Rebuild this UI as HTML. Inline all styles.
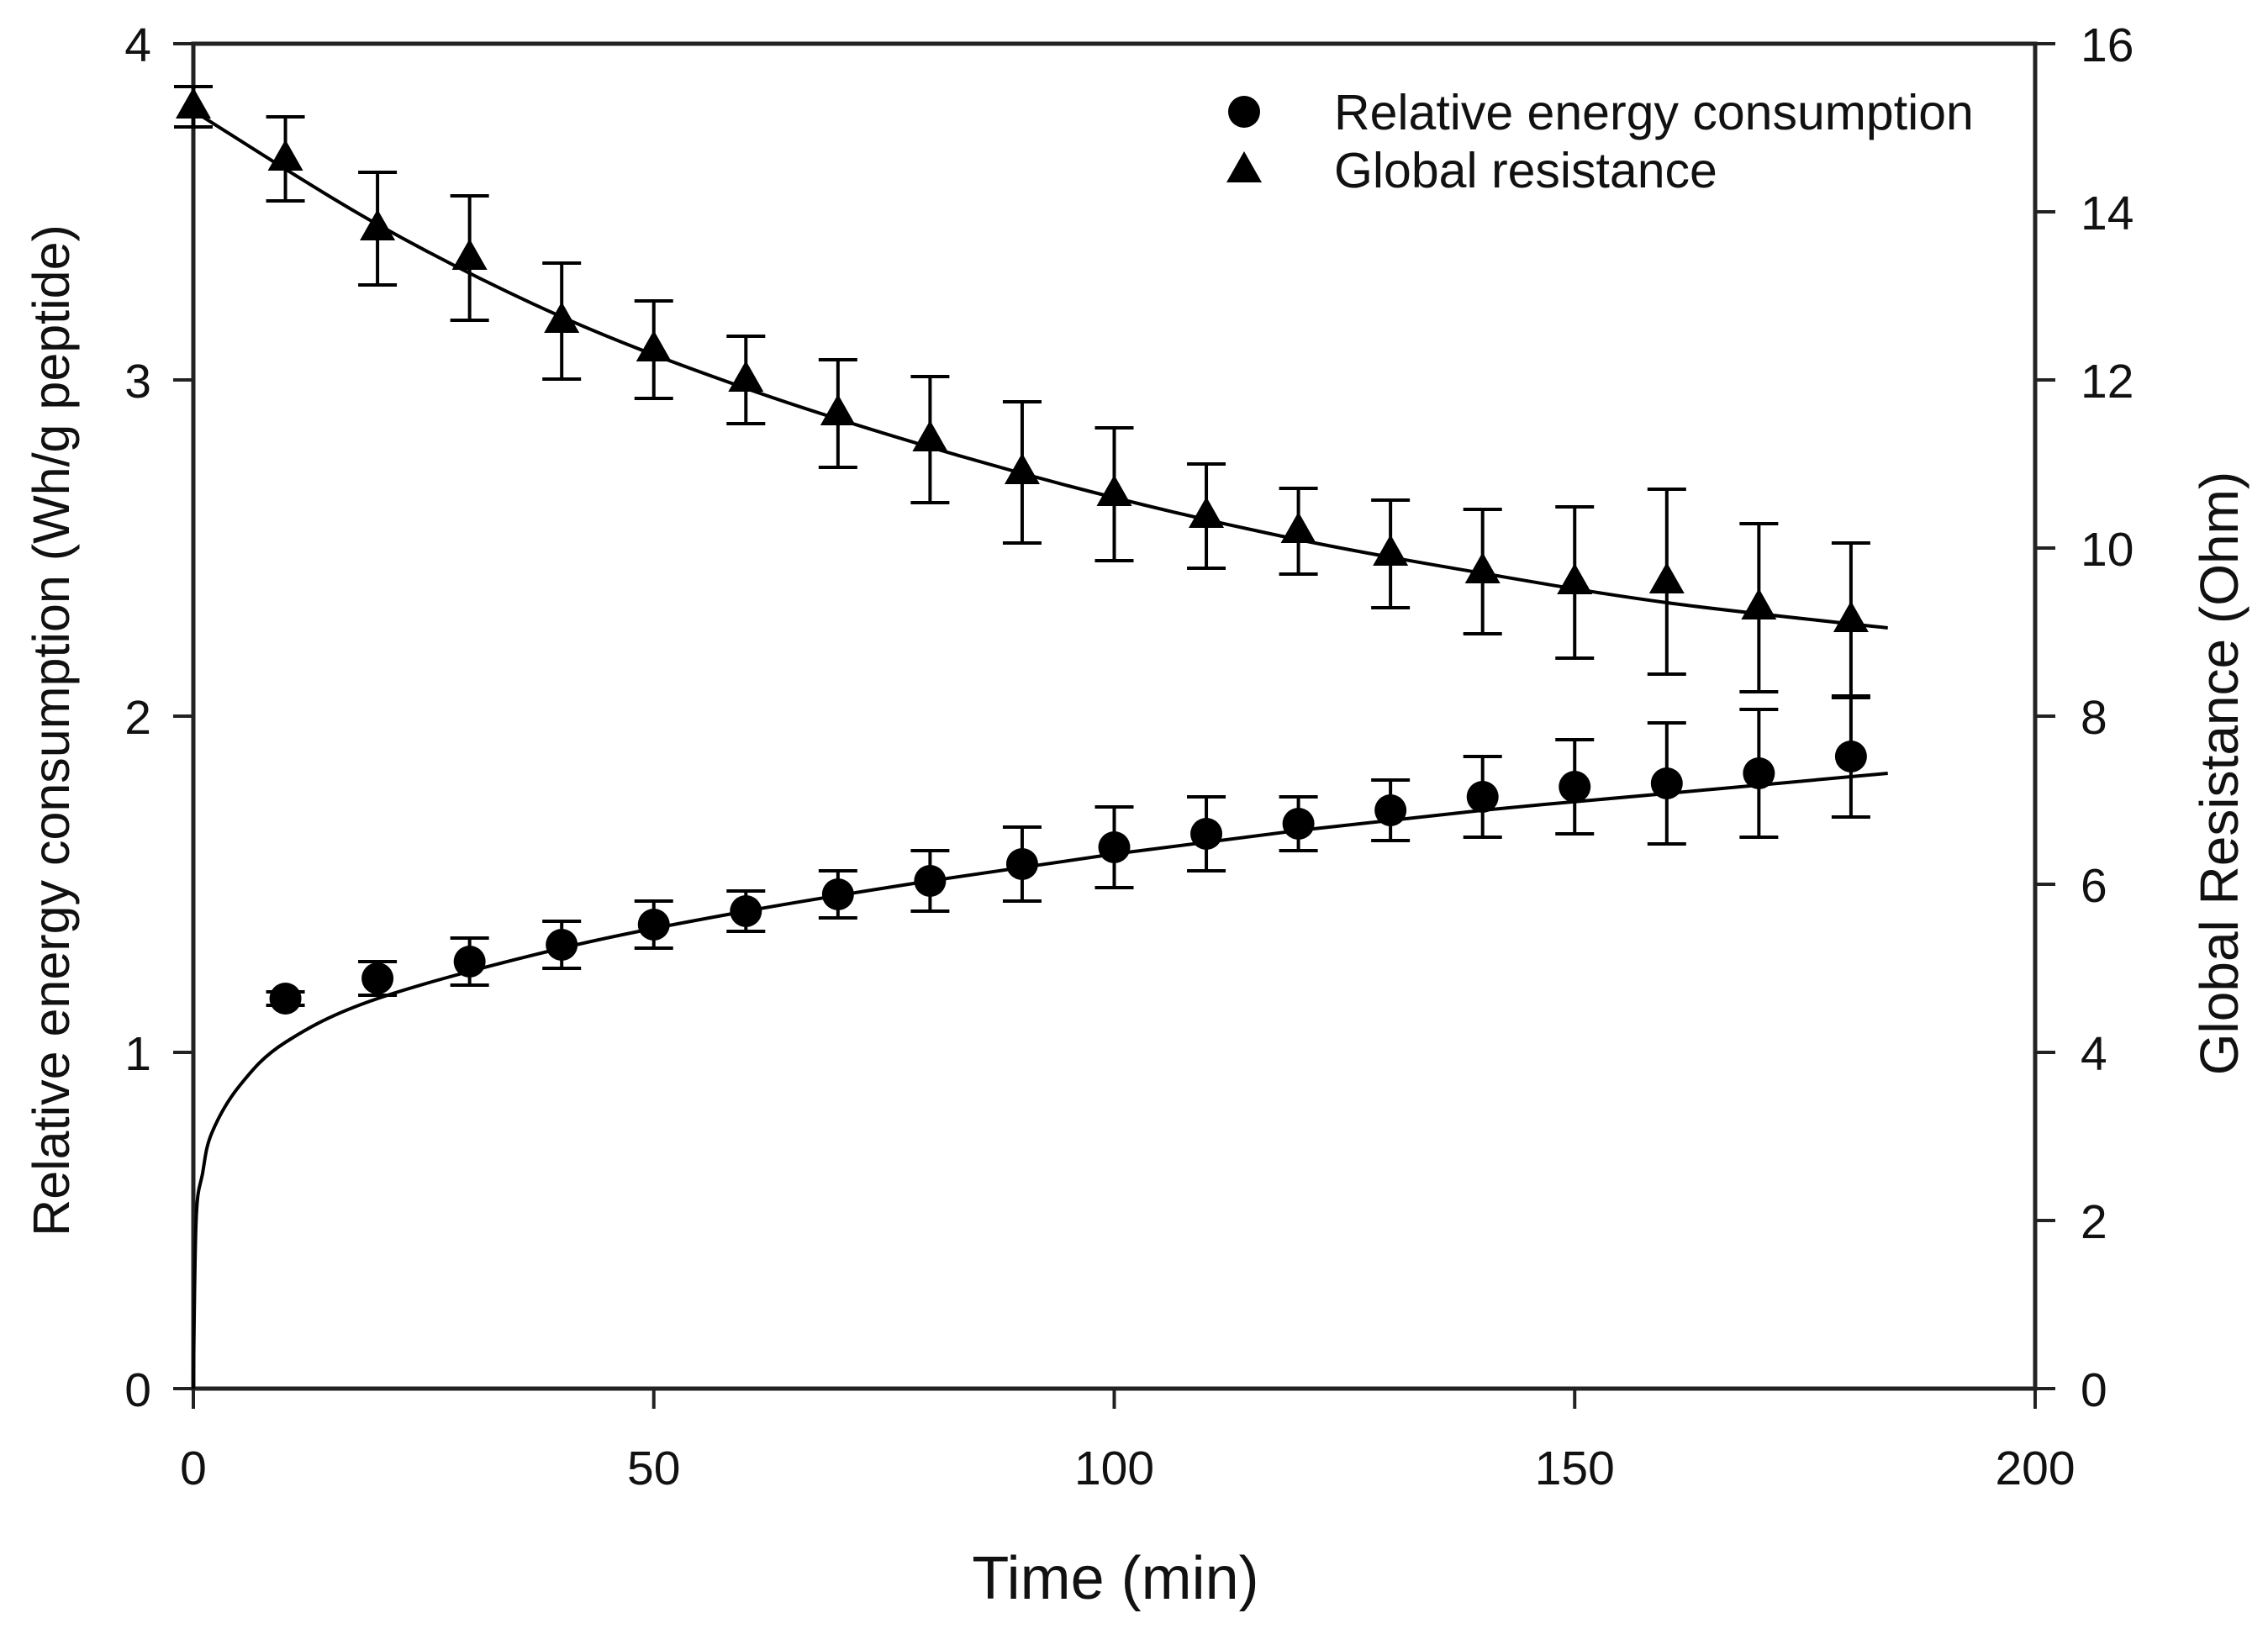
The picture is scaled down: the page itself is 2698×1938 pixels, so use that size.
<!DOCTYPE html>
<html><head><meta charset="utf-8">
<style>
html,body{margin:0;padding:0;background:#fff;}
svg{display:block;font-family:"Liberation Sans",Arial,sans-serif;}
</style></head>
<body>
<svg id="chart" width="2698" height="1938" viewBox="0 0 2698 1938" xmlns="http://www.w3.org/2000/svg">
<rect width="2698" height="1938" fill="#fff"/>
<g id="axes"></g>
<g id="marks"></g>
<text x="1327" y="1902" font-size="72" text-anchor="middle" fill="#111">Time (min)</text>
<text transform="translate(82,869) rotate(-90)" font-size="61" text-anchor="middle" fill="#111">Relative energy consumption (Wh/g peptide)</text>
<text transform="translate(2662,920) rotate(-90)" font-size="64" text-anchor="middle" fill="#111">Global Resistance (Ohm)</text>
<g>
<circle cx="1480" cy="133" r="19" fill="#000"/>
<text x="1587" y="154" font-size="59" fill="#111">Relative energy consumption</text>
<polygon points="1480,180 1501,217 1459,217" fill="#000"/>
<text x="1587" y="223" font-size="59" fill="#111">Global resistance</text>
</g>
</svg>
<script>
const times = [10,20,30,40,50,60,70,80,90,100,110,120,130,140,150,160,170,180];
const energy = [1.16,1.22,1.27,1.32,1.38,1.42,1.47,1.51,1.56,1.61,1.65,1.68,1.72,1.76,1.79,1.80,1.83,1.88];
const energyErr = [0.02,0.05,0.07,0.07,0.07,0.06,0.07,0.09,0.11,0.12,0.11,0.08,0.09,0.12,0.14,0.18,0.19,0.18];
const resTimes = [0,10,20,30,40,50,60,70,80,90,100,110,120,130,140,150,160,170,180];
const resistance = [15.25,14.63,13.8,13.45,12.7,12.36,12.0,11.6,11.29,10.9,10.64,10.38,10.2,9.93,9.72,9.59,9.6,9.29,9.14];
const resistanceErr = [0.24,0.5,0.67,0.74,0.69,0.58,0.52,0.64,0.75,0.84,0.79,0.62,0.51,0.64,0.74,0.9,1.1,1.0,0.92];
const energyFitT = [0,0.3,1,2,5,10,20,40,60,80,100,120,140,160,184];
const energyFit = [0,0.5,0.64,0.76,0.9,1.03,1.16,1.31,1.42,1.51,1.59,1.66,1.72,1.77,1.83];
const resFitT = [0,20,40,60,80,100,120,140,160,184];
const resFit = [15.2,13.85,12.75,11.9,11.2,10.6,10.1,9.7,9.35,9.05];
const xTicks = [0,50,100,150,200];
const yLeftTicks = [0,1,2,3,4];
const yRightTicks = [0,2,4,6,8,10,12,14,16];

const NS="http://www.w3.org/2000/svg";
const L=230,R=2421,T=52,B=1652;
const x=t=>L+(t/200)*(R-L);
const yL=v=>B-(v/4)*(B-T);
const yR=v=>B-(v/16)*(B-T);
function mk(tag,attrs,parent){const e=document.createElementNS(NS,tag);for(const k in attrs)e.setAttribute(k,attrs[k]);parent.appendChild(e);return e;}
const axes=document.getElementById('axes'), marks=document.getElementById('marks');
const st={stroke:'#222','stroke-width':5,fill:'none'};
let e;
e=mk('rect',{x:L,y:T,width:R-L,height:B-T,...st},axes);


xTicks.forEach(t=>{
 e=mk('line',{x1:x(t),x2:x(t),y1:B,y2:B+24,stroke:'#222','stroke-width':4},axes);
 
 
 e=mk('text',{x:x(t),y:B+114,'font-size':57,'text-anchor':'middle',fill:'#111'},axes);e.textContent=t;
 
 
});
yLeftTicks.forEach(v=>{
 e=mk('line',{x1:L-24,x2:L,y1:yL(v),y2:yL(v),stroke:'#222','stroke-width':4},axes);
 
 
 e=mk('text',{x:L-50,y:yL(v)+21,'font-size':57,'text-anchor':'end',fill:'#111'},axes);e.textContent=v;
 
 
});
yRightTicks.forEach(v=>{
 e=mk('line',{x1:R,x2:R+24,y1:yR(v),y2:yR(v),stroke:'#222','stroke-width':4},axes);
 
 
 e=mk('text',{x:R+54,y:yR(v)+21,'font-size':57,'text-anchor':'start',fill:'#111'},axes);e.textContent=v;
 
 
});
function smooth(pts){let d='M'+pts[0][0]+','+pts[0][1];for(let i=0;i<pts.length-1;i++){const p0=pts[i-1]||pts[i],p1=pts[i],p2=pts[i+1],p3=pts[i+2]||p2;const c1=[p1[0]+(p2[0]-p0[0])/6,p1[1]+(p2[1]-p0[1])/6],c2=[p2[0]-(p3[0]-p1[0])/6,p2[1]-(p3[1]-p1[1])/6];d+=' C'+c1+' '+c2+' '+p2;}return d;}
e=mk('path',{d:smooth(energyFitT.map((t,i)=>[x(t),yL(energyFit[i])])),stroke:'#000','stroke-width':4,fill:'none'},marks);


e=mk('path',{d:smooth(resFitT.map((t,i)=>[x(t),yR(resFit[i])])),stroke:'#000','stroke-width':4,fill:'none'},marks);


function errbar(cx,y1,y2,name){
 e=mk('path',{d:`M${cx},${y1}V${y2}M${cx-23},${y1}H${cx+23}M${cx-23},${y2}H${cx+23}`,stroke:'#000','stroke-width':4,fill:'none'},marks);
 
 
}
times.forEach((t,i)=>{
 errbar(x(t),yL(energy[i]+energyErr[i]),yL(energy[i]-energyErr[i]),'energy-error-bar');
 e=mk('circle',{cx:x(t),cy:yL(energy[i]),r:19,fill:'#000'},marks);
 
 
});
resTimes.forEach((t,i)=>{
 errbar(x(t),yR(resistance[i]+resistanceErr[i]),yR(resistance[i]-resistanceErr[i]),'resistance-error-bar');
 const cx=x(t),cy=yR(resistance[i]);
 e=mk('polygon',{points:`${cx},${cy-23} ${cx+21},${cy+14} ${cx-21},${cy+14}`,fill:'#000'},marks);
 
 
});
</script>
</body></html>
